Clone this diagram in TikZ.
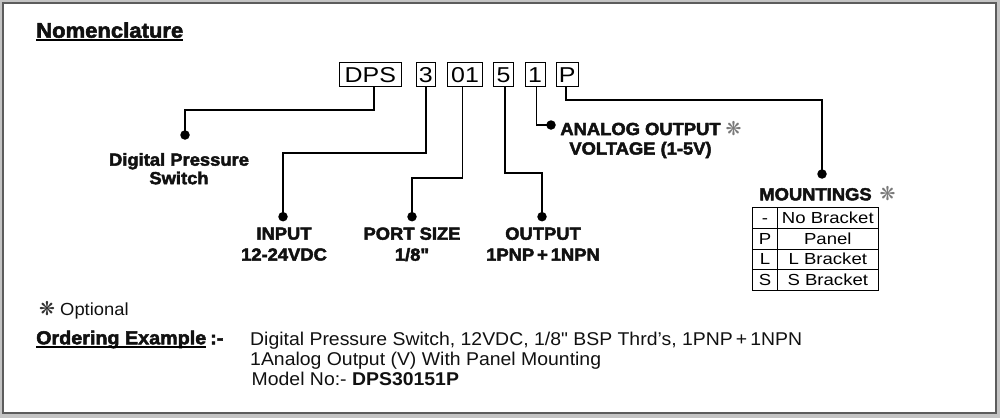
\documentclass[tikz,border=0pt]{standalone}
\usepackage{fontspec}
\setmainfont{Liberation Sans}
\newfontfamily\bodyfont{Liberation Sans}[FakeStretch=1.05]
\newfontfamily\widefont{Liberation Sans}[FakeStretch=1.16]
\newfontfamily\heavyfont{Liberation Sans}[FakeStretch=1.05, BoldFeatures={FakeBold=2.6}]
\newfontfamily\symfont{DejaVu Sans}
\usetikzlibrary{calc}
\definecolor{framegray}{HTML}{C4C4C4}
\definecolor{framedark}{HTML}{5C5C5C}
\definecolor{optgray}{HTML}{7A7A7A}
\definecolor{inkcol}{HTML}{111111}
\newcommand\optmark[1][optgray]{{\symfont\fontsize{19}{19}\selectfont\color{#1}❋}}
\begin{document}
\begin{tikzpicture}[x=1pt,y=-1pt,
  box/.style={draw, line width=0.8, inner sep=0, minimum height=24,
    font=\widefont\fontsize{21.5}{21.5}\selectfont, text height=15.5, text depth=0},
  conn/.style={line width=1.8, line join=miter},
  dot/.style={circle, fill, inner sep=0, minimum size=9.5},
  lbl/.style={font=\heavyfont\bfseries\fontsize{17.5}{21}\selectfont, align=center, inner sep=0, anchor=north, text=inkcol},
  cell/.style={draw, line width=0.8, inner sep=0, minimum height=20.9,
    font=\widefont\fontsize{16}{16}\selectfont, text height=11, text depth=0},
  heading/.style={font=\heavyfont\bfseries\fontsize{#1}{#1}\selectfont, inner sep=0, anchor=base west, text=inkcol},
  body/.style={font=\bodyfont\fontsize{18.5}{20}\selectfont, inner sep=0, text=inkcol}
]
\useasboundingbox (0,0) rectangle (1000,418);
\fill[framegray] (0,0) rectangle (1000,418);
\draw[fill=white, draw=framedark, line width=1.6] (3.2,3) rectangle (996,413.2);

% title
\node[heading=21] (title) at (36,37.7) {Nomenclature};
\draw[line width=2] ($(title.base west)+(0,2.6)$) -- ($(title.base east)+(0,2.6)$);

% code boxes
\node[box, minimum width=62.7] (bdps) at (370.3,74.6) {DPS};
\node[box, minimum width=19.5] (b3) at (425.8,74.6) {3};
\node[box, minimum width=35.4] (b01) at (465,74.6) {01};
\node[box, minimum width=19.6] (b5) at (503.5,74.6) {5};
\node[box, minimum width=20] (b1) at (535,74.6) {1};
\node[box, minimum width=22.3] (bP) at (567.2,74.6) {P};

% dots
\node[dot] (ddps) at (185,135) {};
\node[dot] (dinp) at (283,216.7) {};
\node[dot] (dport) at (412,216.7) {};
\node[dot] (dout) at (542,216.7) {};
\node[dot] (dana) at (551,125) {};
\node[dot] (dmnt) at (822,174) {};

% connectors
\draw[conn] ([xshift=4pt]bdps.south) |- (185,110) -- (ddps.center);
\draw[conn] (b3.south) |- (283,152.7) -- (dinp.center);
\draw[conn] ([xshift=-2.5pt]b01.south) |- (412,177.7) -- (dport.center);
\draw[conn] ([xshift=1.5pt]b5.south) |- (542,173.3) -- (dout.center);
\draw[conn] ([xshift=1.5pt]b1.south) |- (dana.center);
\draw[conn] ([xshift=-1pt]bP.south) |- (822,100) -- (dmnt.center);

% labels
\node[lbl, font=\heavyfont\bfseries\fontsize{17.5}{18.5}\selectfont] (ldps) at (179,152.8) {Digital Pressure\\Switch};
\node[lbl] (linp) at (284,227.3) {INPUT\\12-24VDC};
\node[lbl] (lport) at (412,227.3) {PORT SIZE\\1/8"};
\node[lbl] (lout) at (543,227.3) {OUTPUT\\1PNP\,+\,1NPN};
\node[lbl, font=\heavyfont\bfseries\fontsize{17.5}{19.5}\selectfont] (lana) at (640.5,120.7) {ANALOG OUTPUT\rlap{\hspace{5pt}\optmark}\\VOLTAGE (1-5V)};
\node[lbl] (lmnt) at (815.5,186) {MOUNTINGS\rlap{\hspace{8pt}\optmark}};

% mountings table
\node[cell, minimum width=24.6] (c11) at (765,217.65) {-};
\node[cell, minimum width=101] (c12) at (827.8,217.65) {No Bracket};
\node[cell, minimum width=24.6] (c21) at (765,238.5) {P};
\node[cell, minimum width=101] (c22) at (827.8,238.5) {Panel};
\node[cell, minimum width=24.6] (c31) at (765,259.4) {L};
\node[cell, minimum width=101] (c32) at (827.8,259.4) {L Bracket};
\node[cell, minimum width=24.6] (c41) at (765,280.3) {S};
\node[cell, minimum width=101] (c42) at (827.8,280.3) {S Bracket};

% optional note
\node[body, anchor=base west, font=\bodyfont\fontsize{17.5}{17.5}\selectfont] (opt) at (39,315) {\optmark[black!80]\ Optional};

% ordering example
\node[heading=18.8] (ord) at (36,344.3) {Ordering Example};
\draw[line width=2] ($(ord.base west)+(0,3)$) -- ($(ord.base east)+(0,3)$);
\node[heading=18.8] (ordsep) at (210,344.3) {:-};
\node[body, anchor=north west, align=left] (ordtxt) at (250,331.5)
  {Digital Pressure Switch, 12VDC, 1/8" BSP Thrd’s, 1PNP\,+\,1NPN\\
   1Analog Output (V) With Panel Mounting\\
   \hspace{1.5pt}Model No:- {\bfseries DPS30151P}};
\end{tikzpicture}
\end{document}
